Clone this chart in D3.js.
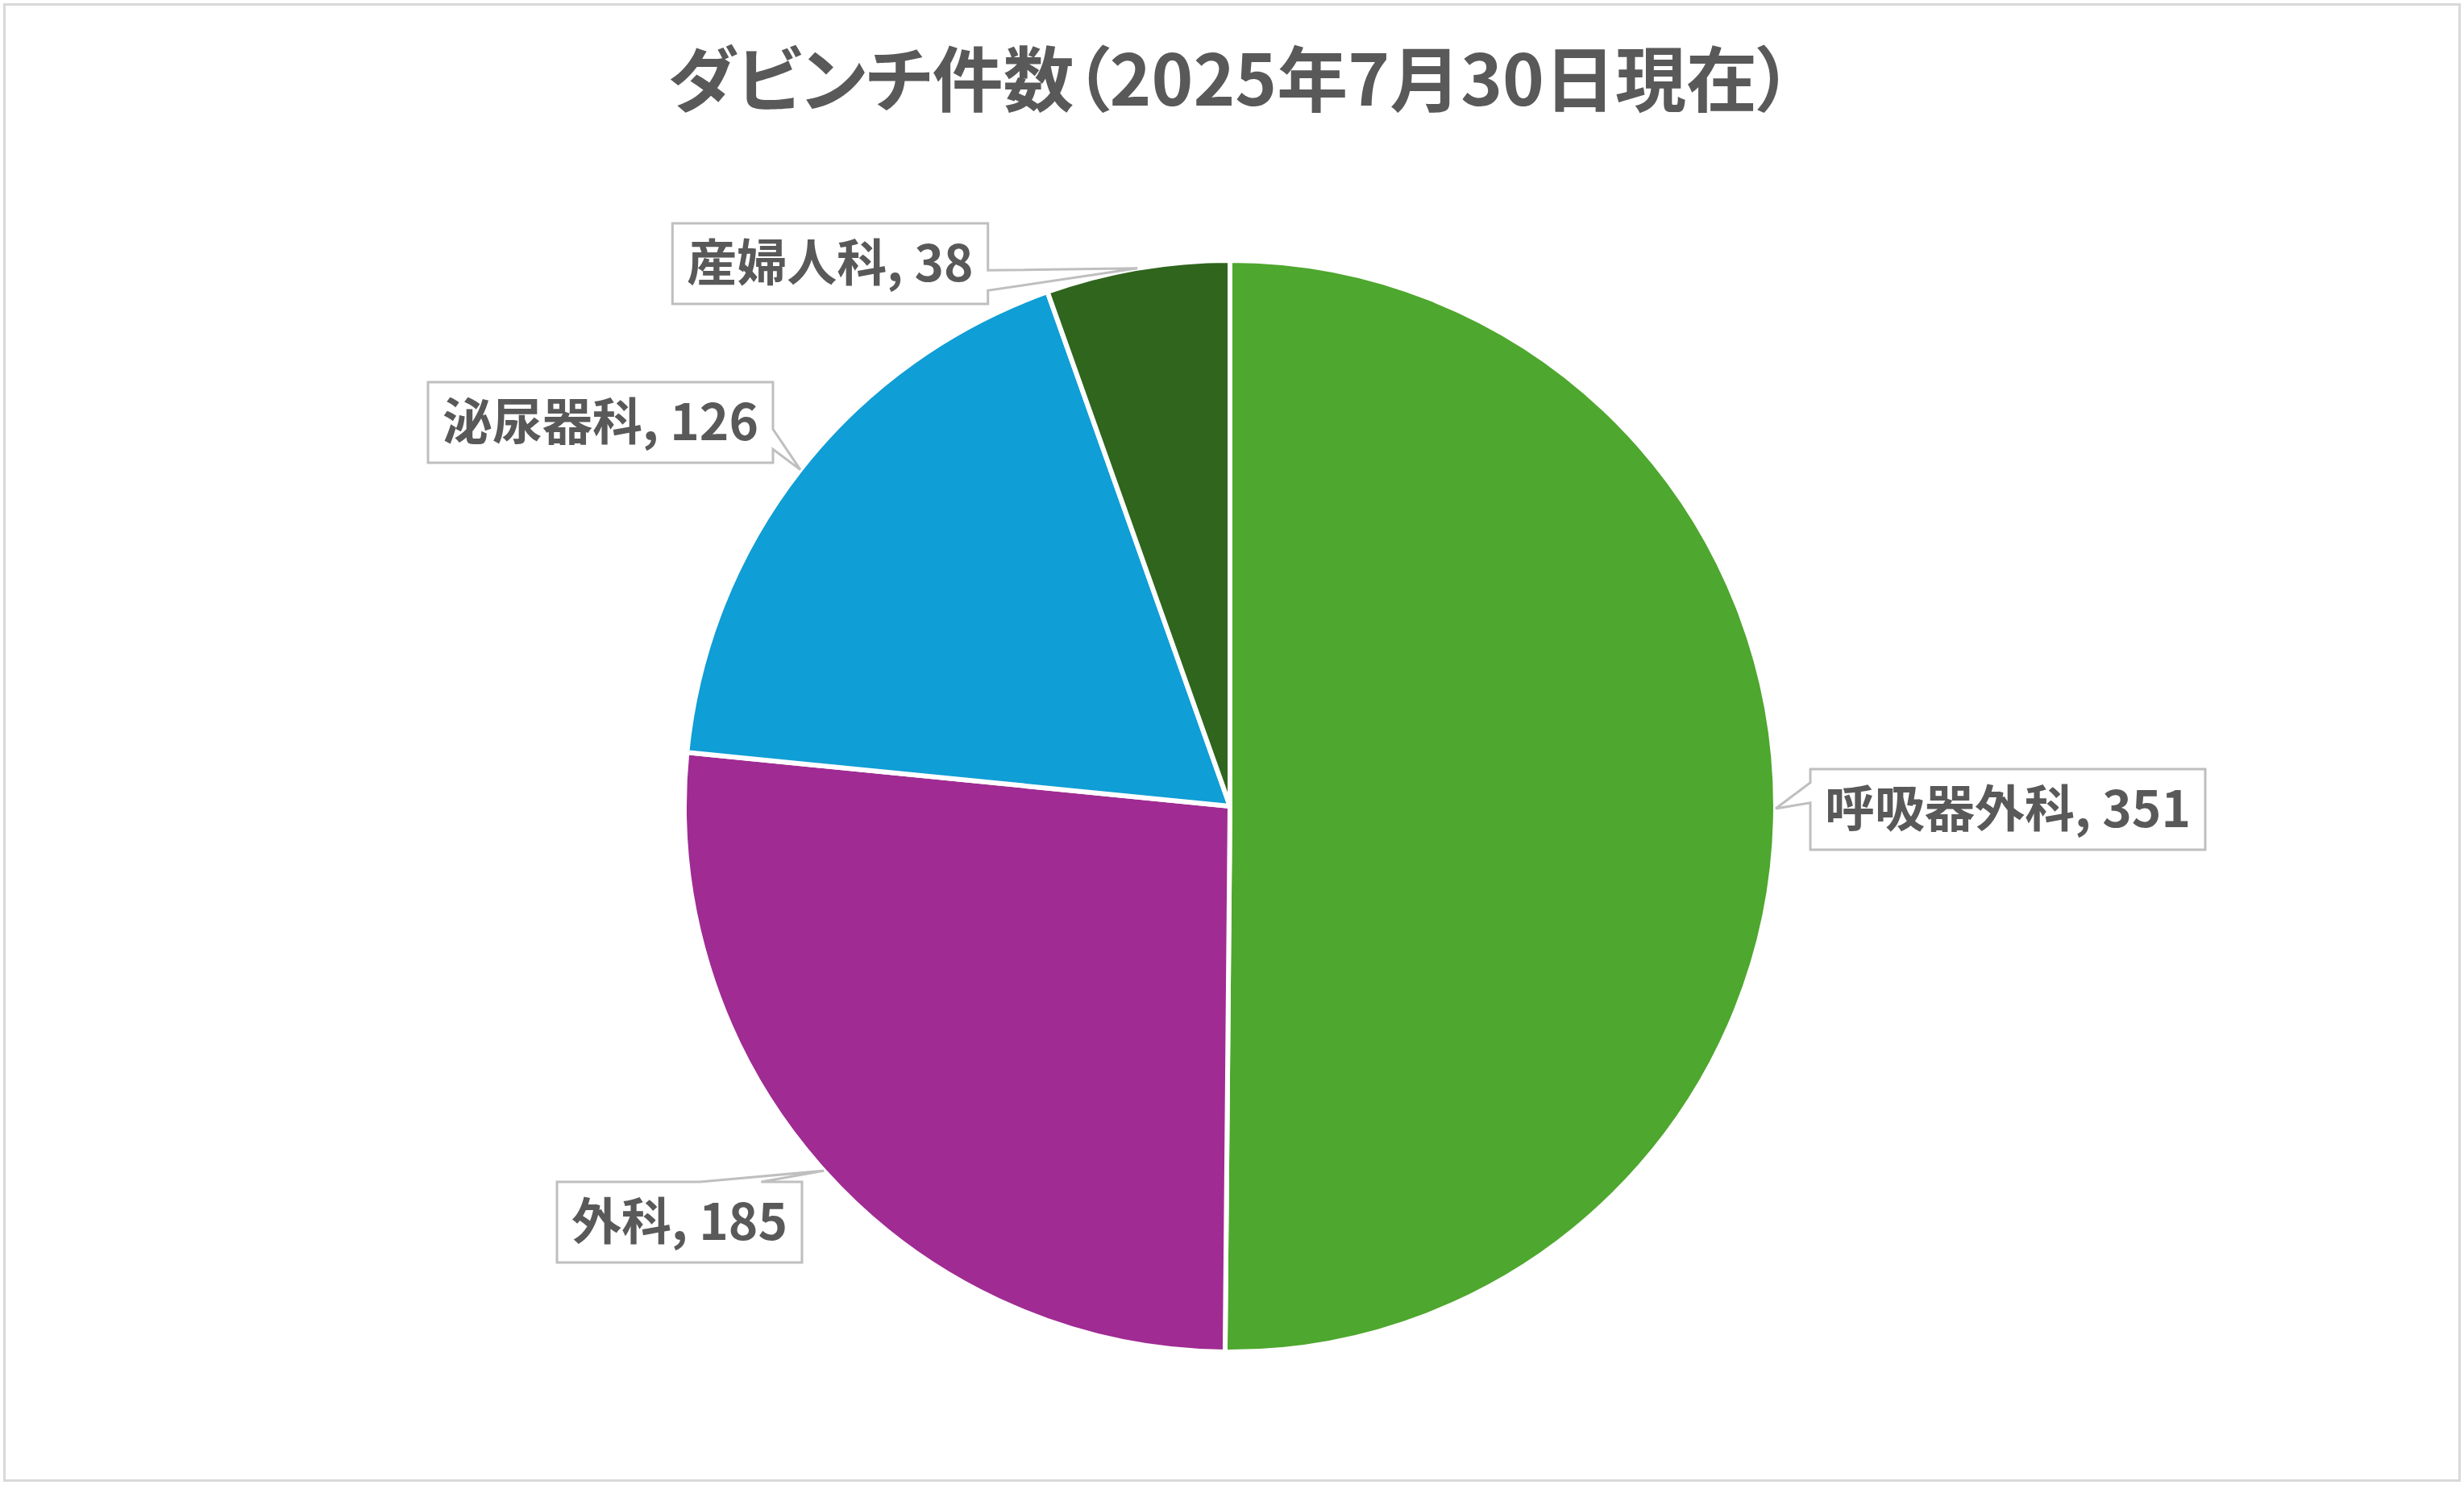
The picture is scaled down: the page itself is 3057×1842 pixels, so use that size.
<!DOCTYPE html>
<html>
<head>
<meta charset="utf-8">
<script src="https://cdn.jsdelivr.net/npm/d3@7"></script>
<style>
  body { margin: 0; background: #fff; }
  text {
    font-family: "Noto Sans CJK JP", sans-serif;
    font-weight: bold;
    fill: #595959;
    font-feature-settings: "palt";
  }
</style>
</head>
<body>
<svg></svg>
<script>
'use strict';

// data
var title = 'ダビンチ件数（2025年7月30日現在）';
var categories = ['呼吸器外科', '外科', '泌尿器科', '産婦人科'];
var counts = [351, 185, 126, 38];
var colors = ['#4EA72E', '#A02B93', '#0F9ED5', '#2F651D'];

// sizes
var width = 3057;
var height = 1842;
var center = {x: 1526, y: 1000};
var radius = 677;
var titleFont = 88;
var labelFont = 62;
var boxHeight = 100;
var boxPad = 18;

// where each data label box sits (centre) and which edge holds the pointer
var labelLayout = [
    {x: 2491, y: 1004, side: 'left'},
    {x: 843, y: 1516, side: 'top'},
    {x: 745, y: 524, side: 'right'},
    {x: 1030, y: 327, side: 'right'}
];

document.addEventListener('DOMContentLoaded', function() {
    drawPie();
});

function drawPie() {

    var svg = d3.select('svg')
        .attr('width', width)
        .attr('height', height);

    // chart frame
    svg.append('rect')
        .attr('x', 5.5).attr('y', 5.5)
        .attr('width', width - 11).attr('height', height - 11)
        .attr('fill', '#fff')
        .attr('stroke', '#D9D9D9')
        .attr('stroke-width', 3);

    svg.append('text')
        .attr('x', center.x)
        .attr('y', 131)
        .attr('text-anchor', 'middle')
        .style('font-size', titleFont + 'px')
        .text(title);

    var pie = d3.pie().sort(null).value(function(d) { return d; });
    var arcs = pie(counts);

    var arc = d3.arc().innerRadius(0).outerRadius(radius);
    var edge = d3.arc().innerRadius(radius).outerRadius(radius);

    var g = svg.append('g')
        .attr('transform', 'translate(' + center.x + ',' + center.y + ')');

    g.selectAll('.slice')
        .data(arcs)
        .enter().append('path')
        .attr('class', 'slice')
        .attr('d', arc)
        .attr('fill', function(d, i) { return colors[i]; })
        .attr('stroke', '#fff')
        .attr('stroke-width', 6)
        .attr('stroke-linejoin', 'round');

    // data labels with callout boxes
    var labels = svg.append('g');

    arcs.forEach(function(d, i) {
        var lay = labelLayout[i];
        var c = edge.centroid(d);
        var tip = [c[0] + center.x, c[1] + center.y];

        var lg = labels.append('g');
        var path = lg.append('path');
        var txt = lg.append('text')
            .attr('x', lay.x)
            .attr('y', lay.y + labelFont * 0.36)
            .attr('text-anchor', 'middle')
            .style('font-size', labelFont + 'px')
            .text(categories[i] + ', ' + counts[i]);

        var w = txt.node().getComputedTextLength() + boxPad * 2;
        var x0 = lay.x - w / 2, x1 = lay.x + w / 2;
        var y0 = lay.y - boxHeight / 2, y1 = lay.y + boxHeight / 2;

        path.attr('d', calloutPath(x0, y0, x1, y1, tip, lay.side))
            .attr('fill', '#fff')
            .attr('stroke', '#BFBFBF')
            .attr('stroke-width', 3)
            .attr('stroke-linejoin', 'miter');
    });
}

// rectangle callout: the notch uses 2/12-5/12 or 7/12-10/12 of the edge
function calloutPath(x0, y0, x1, y1, tip, side) {
    var w = x1 - x0, h = y1 - y0;
    var pts = [];
    var lowHalf, a, b;

    pts.push([x0, y0]);
    if (side === 'top') {
        lowHalf = tip[0] < (x0 + x1) / 2;
        a = x0 + w * (lowHalf ? 2 : 7) / 12;
        b = x0 + w * (lowHalf ? 5 : 10) / 12;
        pts.push([a, y0], tip, [b, y0]);
    }
    pts.push([x1, y0]);
    if (side === 'right') {
        lowHalf = tip[1] < (y0 + y1) / 2;
        a = y0 + h * (lowHalf ? 2 : 7) / 12;
        b = y0 + h * (lowHalf ? 5 : 10) / 12;
        pts.push([x1, a], tip, [x1, b]);
    }
    pts.push([x1, y1]);
    if (side === 'bottom') {
        lowHalf = tip[0] < (x0 + x1) / 2;
        a = x0 + w * (lowHalf ? 5 : 10) / 12;
        b = x0 + w * (lowHalf ? 2 : 7) / 12;
        pts.push([a, y1], tip, [b, y1]);
    }
    pts.push([x0, y1]);
    if (side === 'left') {
        lowHalf = tip[1] < (y0 + y1) / 2;
        a = y0 + h * (lowHalf ? 5 : 10) / 12;
        b = y0 + h * (lowHalf ? 2 : 7) / 12;
        pts.push([x0, a], tip, [x0, b]);
    }

    return d3.line()(pts) + 'Z';
}
</script>
</body>
</html>
